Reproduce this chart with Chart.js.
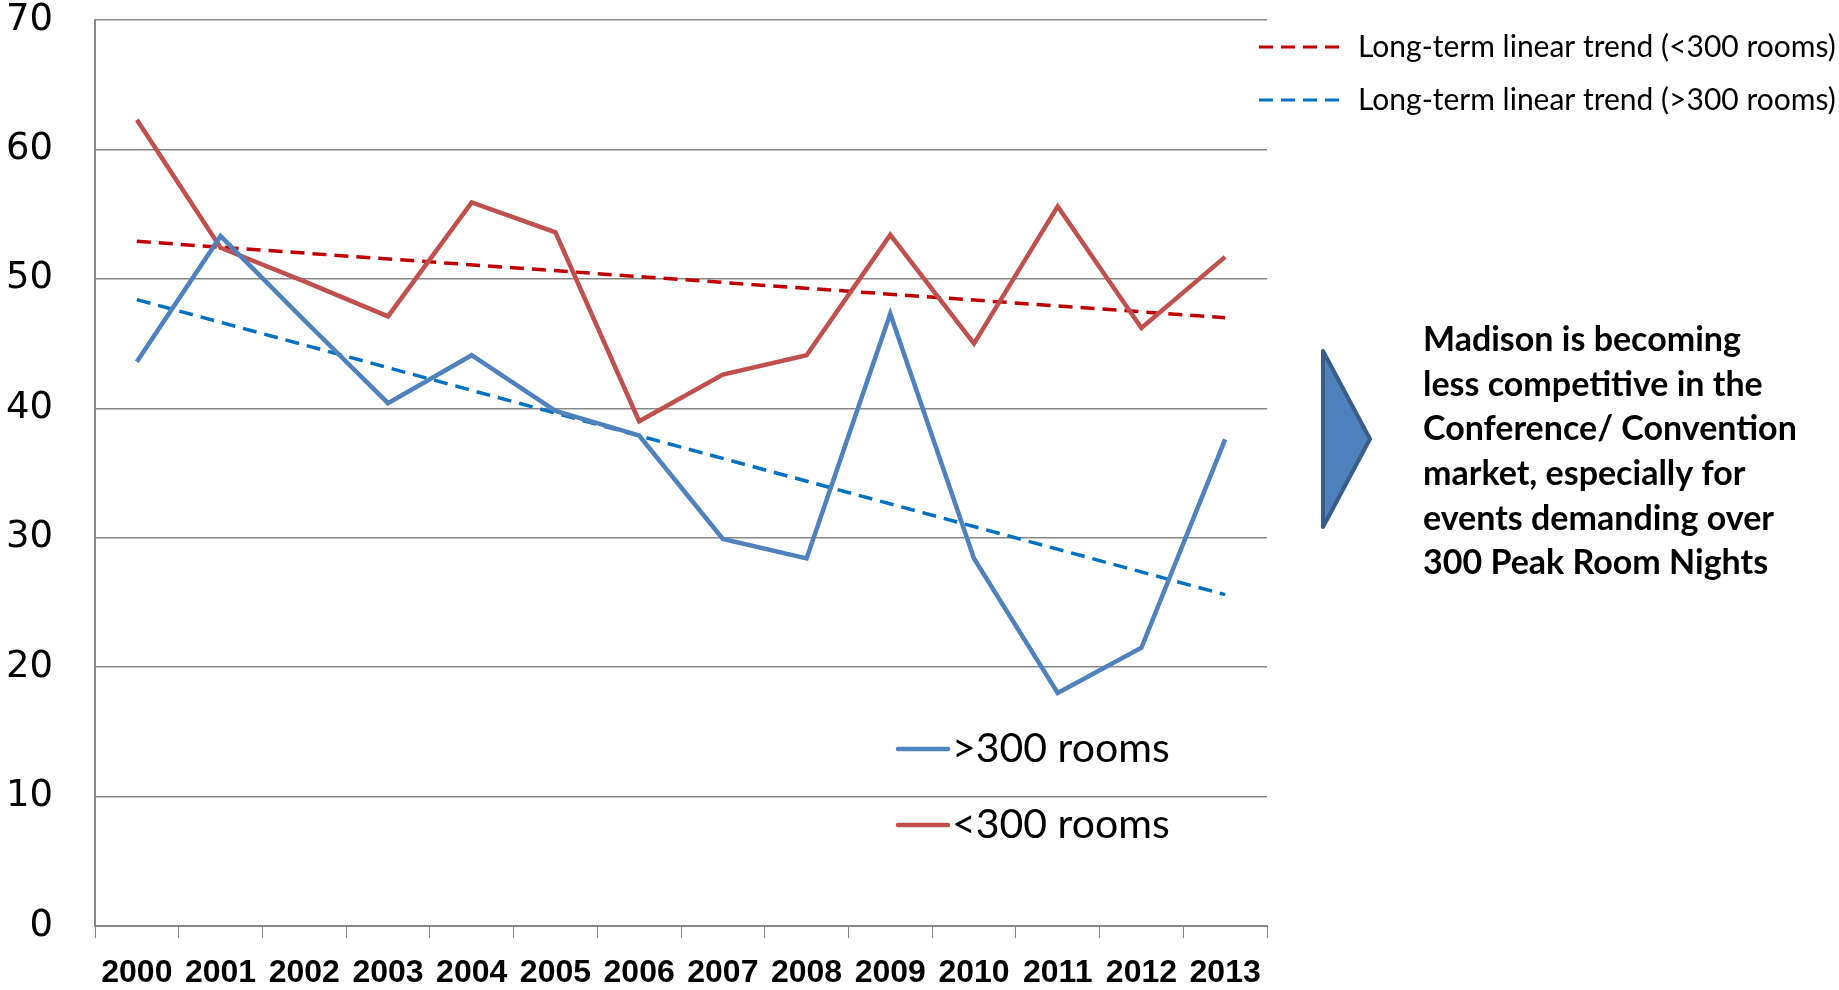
<!DOCTYPE html>
<html>
<head>
<meta charset="utf-8">
<script src="https://cdn.jsdelivr.net/npm/chart.js@4"></script>
<style>
  html, body { margin: 0; padding: 0; background: #fff; }
  #wrap { width: 1839px; height: 990px; }
</style>
</head>
<body>
<div id="wrap"><canvas id="roomChart" width="1839" height="990"></canvas></div>
<script>
const years = ['2000', '2001', '2002', '2003', '2004', '2005', '2006',
  '2007', '2008', '2009', '2010', '2011', '2012', '2013'];

// >300 rooms
const over300 = [43.6, 53.3, 46.8, 40.4, 44.1, 39.8, 37.9,
  29.9, 28.4, 47.3, 28.4, 18.0, 21.5, 37.6];

// <300 rooms
const under300 = [62.3, 52.4, 49.8, 47.1, 55.9, 53.6, 39.0,
  42.6, 44.1, 53.4, 45.0, 55.6, 46.2, 51.7];

// trend lines: only the end points, gaps spanned
const trendUnder = [52.9, null, null, null, null, null, null,
  null, null, null, null, null, null, 47.0];
const trendOver = [48.4, null, null, null, null, null, null,
  null, null, null, null, null, null, 25.6];

const yTicks = [0, 10, 20, 30, 40, 50, 60, 70];

const noteLines = [
  'Madison is becoming',
  'less competitive in the',
  'Conference/ Convention',
  'market, especially for',
  'events demanding over',
  '300 Peak Room Nights'
];

const BLUE = '#4f81bd';
const RED = '#c0504d';
const TREND_RED = '#c00000';
const TREND_BLUE = '#0070c0';
const GRID = '#878787';

// legends + arrow + note drawn by hand
const extras = {
  id: 'extras',
  afterDraw(chart) {
    const ctx = chart.ctx;
    const ds = chart.data.datasets;
    ctx.save();

    // top-right legend for the trend lines
    ctx.font = '30px Lato, "Open Sans", sans-serif';
    ctx.textBaseline = 'middle';
    ctx.fillStyle = '#000';
    [[2, 47], [3, 100]].forEach(([i, y]) => {
      ctx.strokeStyle = ds[i].borderColor;
      ctx.lineWidth = 3;
      ctx.setLineDash([14, 8]);
      ctx.beginPath();
      ctx.moveTo(1259, y);
      ctx.lineTo(1340, y);
      ctx.stroke();
      ctx.setLineDash([]);
      ctx.fillText(ds[i].label, 1358, y);
    });

    // legend inside the plot
    ctx.font = '41px Lato, "Open Sans", sans-serif';
    [[0, 749], [1, 825]].forEach(([i, y]) => {
      ctx.strokeStyle = ds[i].borderColor;
      ctx.lineWidth = 4.5;
      ctx.lineCap = 'round';
      ctx.beginPath();
      ctx.moveTo(898, y);
      ctx.lineTo(948, y);
      ctx.stroke();
      ctx.fillText(ds[i].label, 952, y);
    });

    // arrow
    ctx.beginPath();
    ctx.moveTo(1323, 351);
    ctx.lineTo(1370, 439);
    ctx.lineTo(1323, 527);
    ctx.closePath();
    ctx.fillStyle = BLUE;
    ctx.fill();
    ctx.strokeStyle = '#385d8a';
    ctx.lineWidth = 4;
    ctx.lineJoin = 'round';
    ctx.stroke();

    // note
    ctx.fillStyle = '#000';
    ctx.font = 'bold 34px Lato, "Open Sans", sans-serif';
    noteLines.forEach((t, k) => ctx.fillText(t, 1423, 340 + k * 44.7));

    ctx.restore();
  }
};

const config = {
  type: 'line',
  data: {
    labels: years,
    datasets: [
      { label: '>300 rooms', data: over300, borderColor: BLUE, borderWidth: 4.5 },
      { label: '<300 rooms', data: under300, borderColor: RED, borderWidth: 4.5 },
      { label: 'Long-term linear trend (<300 rooms)', data: trendUnder,
        borderColor: TREND_RED, borderWidth: 3.5, borderDash: [14, 8], spanGaps: true },
      { label: 'Long-term linear trend (>300 rooms)', data: trendOver,
        borderColor: TREND_BLUE, borderWidth: 3.5, borderDash: [14, 8], spanGaps: true }
    ]
  },
  options: {
    responsive: false,
    animation: false,
    events: [],
    elements: { point: { radius: 0 }, line: { tension: 0 } },
    layout: { padding: { top: 20, right: 572, left: 0, bottom: 0 } },
    plugins: { legend: { display: false }, tooltip: { enabled: false } },
    scales: {
      x: {
        offset: true,
        grid: { offset: true, drawOnChartArea: false, drawTicks: true, tickLength: 12, color: GRID },
        border: { color: GRID, width: 2 },
        ticks: {
          color: '#000',
          padding: 16,
          maxRotation: 0,
          autoSkip: false,
          font: { family: '"Liberation Sans Narrow", "Liberation Sans", sans-serif', size: 32, weight: 'bold' }
        },
        afterFit(scale) { scale.height = 64; }
      },
      y: {
        min: 0,
        max: 70,
        afterBuildTicks(scale) { scale.ticks = yTicks.map(v => ({ value: v })); },
        grid: { drawTicks: false, color: GRID, lineWidth: 1.5 },
        border: { color: GRID, width: 2 },
        ticks: {
          color: '#000',
          padding: 42,
          font: { family: '"DejaVu Sans", sans-serif', size: 37 }
        },
        afterFit(scale) { scale.width = 95; scale.paddingTop = 0; scale.paddingBottom = 0; }
      }
    }
  },
  plugins: [extras]
};

const ctx = document.getElementById('roomChart').getContext('2d');
const roomChart = new Chart(ctx, config);
</script>
</body>
</html>
